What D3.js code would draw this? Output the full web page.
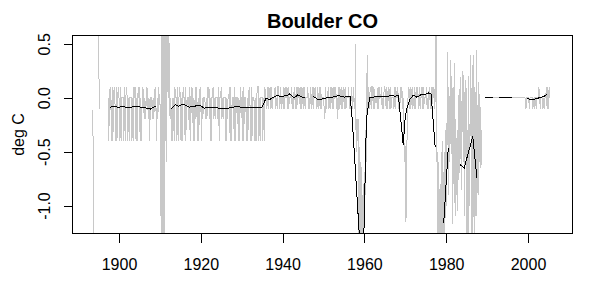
<!DOCTYPE html>
<html>
<head>
<meta charset="utf-8">
<script src="https://d3js.org/d3.v7.min.js"></script>
<style>
  body { margin: 0; background: #fff; }
  svg { display: block; font-family: "Liberation Sans", Arial, sans-serif; }
</style>
</head>
<body>
<svg id="chart" width="589" height="287"></svg>
<script>
// Tick values
const yearTicks = [1900, 1920, 1940, 1960, 1980, 2000];
const degTicks = [-1.0, -0.5, 0.0, 0.5];

// Raw (gray) series, one array per stretch of record
const gray1893 = [-.11, -.43, -.9, -1.6];
const gray1894 = [.9, .32, .3, -.1];
const gray1897 = [
  0, -.4, 0, .1,
  0, -.4, .1, -.4, 0, .1,
  0, -.4, .1, -.4, 0, .1,
  0, -.4, .1, -.4, 0, 0,
  0, -.4, .1, -.4, 0, .1,
  0, -.4, 0, -.4, 0, 0,
  0, -.4, 0, -.4, .1, 0,
  .1, -.4, 0, -.4, .1, 0,
  .1, -.4, 0, -.4, 0, .1,
  0, -.2, 0, -.2, 0, .1,
  0, -.2, 0, -.4, 0, 0,
  0, -.2, 0, -.2, 0, .1,
  0, -.4, 0, -.2, .1, 0,
  0, -.4, -1.5, .9, -1.5, .8,
  -1.4, .9, -.4, .8, -.6, .9,
  0, .8, 0, -.2, 0, -.4,
  0, -.4, 0, -.4, .1, 0,
  0, -.4, .1, -.4, 0, .1,
  0, -.4, 0, -.4, .1, 0,
  0, -.4, .1, -.3, 0, 0,
  0, -.3, .1, -.4, 0, .1,
  0, -.4, 0, -.4, 0, .1,
  0, -.4, 0, -.4, 0, .1,
  0, -.4, 0, -.2, 0, 0,
  0, -.2, 0, -.2, .1, 0,
  .1, -.2, 0, -.4, 0, 0,
  .1, -.2, 0, -.2, 0, 0,
  0, -.2, .1, -.4, 0, 0,
  .1, -.2, 0, -.2, 0, 0,
  0, -.4, 0, -.2, 0, 0,
  .1, -.4, .1, -.4, 0, 0,
  0, -.4, .1, -.4, 0, 0,
  0, -.4, 0, -.4, .1, 0,
  0, -.4, .1, -.4, 0, 0,
  0, -.4, 0, -.4, 0, .1,
  0, -.4, .1, -.4, 0, 0,
  0, -.4, 0, -.4, 0, .1,
  .1, -.4, 0, -.4, 0, 0,
  0, -.4, 0, -.4, .1, 0
];
const gray1936 = [
  0, -.1, .1, -.1, .1, 0,
  .1, -.1, .1, -.1, 0, 0,
  0, .1, -.1, 0, -.1, .1,
  .1, 0, -.1, .1, -.1, 0,
  0, -.1, .1, -.1, .1, 0,
  .1, -.1, .1, -.1, 0, 0,
  0, .1, -.1, 0, -.1, .1,
  0, -.1, .1, -.1, .1, 0,
  .1, 0, -.1, .1, -.1, 0,
  .1, -.1, .1, -.1, 0, 0,
  0, .1, -.1, 0, -.1, .1,
  0, -.1, .1, -.1, .1, 0,
  .1, 0, -.1, .1, -.1, 0,
  .1, -.1, .1, -.1, 0, 0,
  0, -.1, -.2, .1, -.1, 0,
  0, .1, -.1, 0, -.1, .1,
  0, -.1, .1, -.1, .1, 0,
  .1, -.1, 0, -.2, .1, -.1,
  .1, 0, -.1, .1, -.1, 0,
  .1, -.1, .1, -.1, 0, 0,
  0, .1, -.1, 0, -.1, .1,
  0, -.1, .1
];
const gray1957 = [
  0, -.1, 0, -.1, .5, -.3, -.2, -.5, -.3, -.4, -.2, -.3,
  -.2, -1.5, -.2, -1.6, -1.2, -1.5, -1.0, -1.6, -.6, -1.5, -.7, -1.4,
  -.9, -1.3, -1.0, -1.4, -.8, -1.2, -.9, -1.1, -.6, -.9, -.3, -.6,
  0, -.1, .4, 0, -.1, 0, .1, -.1, 0, -.1, 0, .1
];
const gray1961 = [
  0, -.1, .1,
  .1, -.1, .1, -.1, 0, 0,
  0, -.1, .1, -.1, .1, 0,
  0, .1, -.1, 0, -.1, .1,
  .1, 0, -.1, .1, -.1, 0,
  .1, -.1, .1, -.1, 0, 0,
  0, -.1, .1, -.1, .1, 0,
  0, .1, -.1, 0, -.1, .1,
  0, .1, -.1, 0, -.4, -.6,
  -.45, -1.15, -.6, -.2, 0, .1,
  -.1, .1, -.1, 0, .1, -.1,
  0, -.1, .1, -.1, .1, 0,
  .1, 0, -.1, .1, -.1, 0,
  .1, -.1, .1, -.1, 0, 0,
  0, .1, -.1, 0, -.1, .1,
  0, -.1, .1, -.1, .1, 0,
  .1, -.1, 0, .9, -.6, -.5,
  -1.4, -.6, -1.4, -.8, -1.5, -.5,
  -1.4, -.4, -1.5, -.5, -1.4, -.3,
  -1.0, -.4, .42, -.9, .1, -.6,
  .35, -.43, .2, -1.17, .1, -.8,
  .32, -1.1, -.2, -.9, -.3, -1.05,
  -.2, .08, -.7, .19, -.86, -.1,
  .25, -.6, .21, -1.1, -.2, .16,
  -1.4, -.3, -1.5, .2, -1.0, -.2,
  .4, -1.5, .3, -1.4, .4, -1.5,
  .1, -1.1, .44, -1.1, -.07, -.9,
  .15, -.6, -.09, -.65, -.3
];
const gray1989 = [0, 0];
const gray1999 = [
  0, -.1, 0, 0,
  0, 0, -.1, 0, 0, 0,
  0, -.1, 0, -.1, 0, 0,
  -.1, 0, 0, 0, .1, 0,
  -.1, 0, 0, 0, -.1, 0,
  -.1, 0, 0, .1, -.1, .1,
  -.1, .1, 0
];
const grayStarts = [1893 + 7 / 12, 1894 + 11 / 12, 1897 + 2 / 6, 1936, 1957.5, 1961.5, 1989.6, 1999 + 2 / 6];
const graySteps = [1 / 12, 1 / 12, 1 / 6, 1 / 6, 1 / 12, 1 / 6, 1999 + 2 / 6 - 1989.6, 1 / 6];
const grayValues = [gray1893, gray1894, gray1897, gray1936, gray1957, gray1961, gray1989, gray1999];

// Smoothed (black) series, null marks a break
const smoothYears = [
  1897.9, 1899.1, 1899.9, 1900.7, 1901.5, 1903.2, 1904.0, 1905.2, 1906.4, 1907.7, 1908.5, 1908.9,
  1910,
  1912.8, 1913.8, 1914.6, 1915.7, 1917.1, 1918.3, 1919.8, 1920.8, 1922.5, 1924.5, 1925.7, 1926.9,
  1928.6, 1930.6, 1932.5, 1934.9, 1935.9, 1936.9, 1938.6, 1939.6, 1941.0, 1941.8, 1942.8, 1943.7,
  1944.8, 1945.5,
  1946.5,
  1947.5, 1948.6, 1949.4, 1950.4, 1952.2, 1953.6, 1955.1, 1956.5, 1957.0, 1958.0, 1958.8, 1959.3,
  1959.9, 1960.5, 1961.3, 1962.6, 1964.2, 1965.5, 1966.7, 1967.5, 1968.3, 1969.5, 1969.9, 1970.3,
  1971.1, 1972.0, 1972.8, 1974.0, 1974.8, 1975.6, 1976.3, 1977.3,
  1978.5,
  1979.4, 1980.5,
  1982,
  1983.4, 1984.4, 1986.5, 1987.5,
  1988.5,
  1989.6, 1991.4,
  1992,
  1993.0, 1996.2,
  1998,
  1999.7, 2000.5, 2001.7, 2002.8, 2003.4, 2004.2, 2004.6
];
const smoothValues = [
  -0.087, -0.078, -0.093, -0.078, -0.087, -0.087, -0.078, -0.087, -0.093, -0.105, -0.087, -0.078,
  null,
  -0.102, -0.065, -0.078, -0.059, -0.087, -0.080, -0.068, -0.096, -0.090, -0.096, -0.102, -0.096,
  -0.083, -0.090, -0.090, -0.093, -0.009, -0.015, 0.021, 0.012, 0.019, 0.037, -0.004, 0.028,
  0.006, -0.004,
  null,
  0.012, -0.015, -0.015, -0.004, 0.006, 0.019, 0.006, 0.012, -0.19, -0.80, -1.30, -1.55,
  -1.22, -0.19, 0.00, 0.009, 0.015, 0.009, 0.024, 0.012, 0.024, -0.44, -0.217, -0.108,
  -0.016, 0.024, 0.006, 0.031, 0.030, 0.045, 0.035, -0.46,
  null,
  -1.16, -0.47,
  null,
  -0.62, -0.65, -0.36, -0.74,
  null,
  0, 0,
  null,
  0, 0,
  null,
  0, -0.02, -0.013, 0, 0.006, 0.019, 0.031
];

const svg = d3.select("#chart");
const plot = { left: 72.5, right: 572.5, top: 35.5, bottom: 233.5 };

const x = d3.scaleLinear().domain([1888.63, 2010.88]).range([plot.left, plot.right]);
const y = d3.scaleLinear().domain([-1.259, 0.577]).range([plot.bottom, plot.top]);

svg.append("defs").append("clipPath").attr("id", "clip")
  .append("rect")
  .attr("x", plot.left).attr("y", plot.top)
  .attr("width", plot.right - plot.left).attr("height", plot.bottom - plot.top);

const data = svg.append("g").attr("clip-path", "url(#clip)");

// Gray raw series
const line = d3.line().x(d => x(d[0])).y(d => y(d[1]));
grayValues.forEach((vals, k) => {
  const pts = vals.map((v, i) => [grayStarts[k] + i * graySteps[k], v]);
  data.append("path")
    .attr("d", line(pts))
    .attr("fill", "none")
    .attr("stroke", "#c8c8c8")
    .attr("stroke-width", 1)
    .attr("shape-rendering", "crispEdges");
});

// Black smoothed series
const smooth = smoothYears.map((t, i) => [t, smoothValues[i]]);
data.append("path")
  .attr("d", d3.line().defined(d => d[1] !== null).x(d => x(d[0])).y(d => y(d[1]))(smooth))
  .attr("fill", "none")
  .attr("stroke", "#000")
  .attr("stroke-width", 1)
  .attr("shape-rendering", "crispEdges");

// Axes
const xAxis = svg.append("g")
  .attr("transform", `translate(0, ${ plot.bottom })`)
  .call(d3.axisBottom(x).tickValues(yearTicks).tickSize(9).tickSizeOuter(0).tickFormat(d3.format("d")));
xAxis.select(".domain").remove();
xAxis.selectAll("line").attr("stroke", "#000").attr("shape-rendering", "crispEdges");
xAxis.selectAll("text")
  .attr("y", 36.5).attr("dy", null)
  .attr("font-size", "16px").attr("font-family", "Liberation Sans, Arial, sans-serif").attr("fill", "#000");

const yAxis = svg.append("g")
  .attr("transform", `translate(${ plot.left }, 0)`)
  .call(d3.axisLeft(y).tickValues(degTicks).tickSize(9).tickSizeOuter(0).tickFormat(d => d.toFixed(1)));
yAxis.select(".domain").remove();
yAxis.selectAll("line").attr("stroke", "#000").attr("shape-rendering", "crispEdges");
yAxis.selectAll("text")
  .attr("x", null).attr("dy", "0.35em")
  .attr("transform", "translate(-28.2, 0) rotate(-90)")
  .attr("text-anchor", "middle")
  .attr("font-size", "16px").attr("font-family", "Liberation Sans, Arial, sans-serif").attr("fill", "#000");

// Plot box
svg.append("rect")
  .attr("x", plot.left).attr("y", plot.top)
  .attr("width", plot.right - plot.left).attr("height", plot.bottom - plot.top)
  .attr("fill", "none").attr("stroke", "#000").attr("shape-rendering", "crispEdges");

// Title and y label
svg.append("text")
  .attr("x", (plot.left + plot.right) / 2).attr("y", 28)
  .attr("text-anchor", "middle")
  .attr("font-size", "20px").attr("font-weight", "bold")
  .text("Boulder CO");

svg.append("text")
  .attr("transform", `translate(18.3, ${ (plot.top + plot.bottom) / 2 }) rotate(-90)`)
  .attr("dy", "0.35em")
  .attr("text-anchor", "middle")
  .attr("font-size", "16px")
  .text("deg C");
</script>
</body>
</html>
